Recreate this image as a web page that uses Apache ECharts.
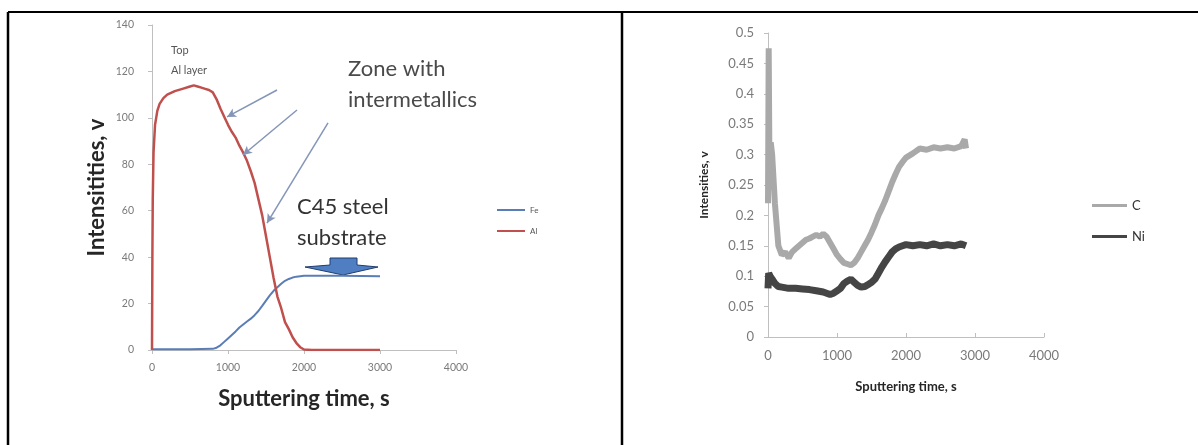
<!DOCTYPE html>
<html><head><meta charset="utf-8">
<script src="https://cdn.jsdelivr.net/npm/echarts@6/dist/echarts.min.js"></script>
<style>html,body{margin:0;padding:0;background:#fff}#c{width:1198px;height:445px}</style>
</head><body><div id="c"></div>
<script>
// ---- Left chart data: sputtering time (s), intensity (v)
const feData = [[0,0.3],[500,0.3],[800,0.5],[850,1],[900,2],[950,3.5],[1000,5],[1050,6.5],[1100,8],[1150,9.7],[1200,11],[1250,12.3],[1300,13.5],[1350,15],[1400,16.8],[1450,19],[1500,21.3],[1550,23.5],[1600,25.5],[1650,27],[1700,28.5],[1750,29.8],[1800,30.6],[1850,31.2],[1900,31.6],[2000,32],[2500,32],[3000,31.8]];
const alData = [[0,0],[5,40],[10,65],[20,85],[40,97],[70,103],[100,106],[150,108.5],[200,110],[300,111.5],[400,112.5],[500,113.5],[550,114],[600,113.5],[650,113],[700,112.5],[750,112],[800,111],[850,108],[900,104],[950,100.5],[1000,97],[1050,94],[1100,91.5],[1150,88],[1200,85],[1250,81.5],[1300,77],[1350,72],[1400,65],[1450,58],[1500,49],[1550,40],[1600,31],[1650,23],[1700,18],[1750,12],[1800,9],[1850,5.5],[1900,3],[1950,1.2],[2000,0.2],[2100,0],[3000,0]];
// annotation arrows (data coords): [fromT, fromV, toT, toV]
const arrowCoords = [[1645,112,987,100.4],[1908,103.4,1197,84],[2316,97.8,1513,54.7]];
const leftXTicks = {min:0,max:4000,interval:1000};
const leftYTicks = {min:0,max:140,interval:20};

// ---- Right chart data
const cData = [[0,0.22],[10,0.475],[20,0.3],[40,0.32],[60,0.3],[100,0.22],[150,0.15],[200,0.135],[250,0.14],[300,0.13],[350,0.14],[400,0.145],[450,0.15],[500,0.155],[550,0.16],[600,0.162],[650,0.165],[700,0.168],[750,0.165],[800,0.17],[850,0.165],[900,0.155],[950,0.145],[1000,0.135],[1050,0.128],[1100,0.122],[1150,0.12],[1200,0.118],[1250,0.122],[1300,0.13],[1350,0.14],[1400,0.15],[1450,0.16],[1500,0.172],[1550,0.185],[1600,0.2],[1650,0.212],[1700,0.225],[1750,0.24],[1800,0.255],[1850,0.268],[1900,0.28],[1950,0.288],[2000,0.295],[2100,0.302],[2200,0.31],[2300,0.308],[2400,0.312],[2500,0.31],[2600,0.312],[2700,0.31],[2800,0.314],[2850,0.325],[2870,0.31]];
const niData = [[0,0.08],[10,0.105],[30,0.1],[60,0.095],[100,0.088],[150,0.083],[200,0.082],[300,0.08],[400,0.08],[500,0.079],[600,0.078],[700,0.076],[800,0.074],[900,0.07],[950,0.072],[1000,0.076],[1050,0.08],[1100,0.088],[1150,0.092],[1200,0.095],[1250,0.09],[1300,0.085],[1350,0.082],[1400,0.083],[1450,0.086],[1500,0.09],[1550,0.095],[1600,0.105],[1650,0.115],[1700,0.124],[1750,0.132],[1800,0.14],[1850,0.145],[1900,0.148],[1950,0.15],[2000,0.152],[2100,0.15],[2200,0.152],[2300,0.15],[2400,0.153],[2500,0.15],[2600,0.152],[2700,0.15],[2800,0.153],[2870,0.15]];
const rightXTicks = {min:0,max:4000,interval:1000};
const rightYTicks = {min:0,max:0.5,interval:0.05};

const FONT = 'Lato, "Open Sans", sans-serif';
const axisGray = '#bfbfbf';

const chart = echarts.init(document.getElementById('c'));
function xAx(idx, t, labelSize, name, nameSize, gap, inside){
  return {gridIndex:idx, type:'value', min:t.min, max:t.max, interval:t.interval,
    splitLine:{show:false},
    axisLine:{lineStyle:{color:axisGray,width:1}},
    axisTick:{show:true,inside:inside,length:4,lineStyle:{color:axisGray}},
    axisLabel:{color:'#7a7a7a',fontSize:labelSize,fontFamily:FONT,margin:12,formatter:v=>String(v)},
    name:name,nameLocation:'middle',nameGap:gap,
    nameTextStyle:{fontFamily:FONT,fontWeight:'bold',fontSize:nameSize,color:'#262626'}};
}
function yAx(idx, t, labelSize, name, nameSize, gap, margin){
  return {gridIndex:idx, type:'value', min:t.min, max:t.max, interval:t.interval,
    splitLine:{show:false},
    axisLine:{show:true,lineStyle:{color:axisGray,width:1}},
    axisTick:{show:true,length:4,lineStyle:{color:axisGray}},
    axisLabel:{color:'#7a7a7a',fontSize:labelSize,fontFamily:FONT,margin:margin},
    name:name,nameLocation:'middle',nameGap:gap,nameRotate:90,
    nameTextStyle:{fontFamily:FONT,fontWeight:'bold',fontSize:nameSize,color:'#262626'}};
}

const option = {
  backgroundColor:'#fff',
  animation:false,
  grid:[
    {left:152, top:25, width:304, height:325},
    {left:768, top:33, width:276, height:304}
  ],
  xAxis:[
    xAx(0,leftXTicks,10.5,'Sputtering time, s',22,38,false),
    xAx(1,rightXTicks,13,'Sputtering time, s',13,43,true)
  ],
  yAxis:[
    yAx(0,leftYTicks,10.5,'Intensitities, v',22,44,18),
    yAx(1,rightYTicks,13,'Intensities, v',12,58,14)
  ],
  legend:[
    {data:['Fe','Al'],orient:'vertical',left:492,top:201,itemWidth:28,itemHeight:14,itemGap:13,
     textStyle:{fontSize:8,color:'#555',fontFamily:FONT},icon:'path://M0,6 L28,6 L28,8 L0,8 Z'},
    {data:['C','Ni'],orient:'vertical',left:1087,top:194,itemWidth:35,itemHeight:14,itemGap:18,
     textStyle:{fontSize:13,color:'#333',fontFamily:FONT},icon:'path://M0,5.5 L35,5.5 L35,8.5 L0,8.5 Z'}
  ],
  series:[
    {name:'Fe',type:'line',xAxisIndex:0,yAxisIndex:0,data:feData,showSymbol:false,symbol:'none',
     lineStyle:{color:'#5b7db6',width:2},itemStyle:{color:'#5b7db6'}},
    {name:'Al',type:'line',xAxisIndex:0,yAxisIndex:0,data:alData,showSymbol:false,symbol:'none',
     lineStyle:{color:'#c0504d',width:2.5},itemStyle:{color:'#c0504d'},
     markLine:{silent:true,symbol:['none','arrow'],symbolSize:[7,9],animation:false,
       lineStyle:{color:'#8495b8',width:1.5,type:'solid'},label:{show:false},
       data:arrowCoords.map(a=>[{coord:[a[0],a[1]]},{coord:[a[2],a[3]]}])}},
    {name:'C',type:'line',xAxisIndex:1,yAxisIndex:1,data:cData,showSymbol:false,symbol:'none',
     lineStyle:{color:'#a9a9a9',width:6},itemStyle:{color:'#a9a9a9'}},
    {name:'Ni',type:'line',xAxisIndex:1,yAxisIndex:1,data:niData,showSymbol:false,symbol:'none',
     lineStyle:{color:'#454545',width:7},itemStyle:{color:'#454545'}}
  ],
  graphic:[
    // panel borders
    {type:'line',shape:{x1:8,y1:12,x2:1198,y2:12},style:{stroke:'#000',lineWidth:2}},
    {type:'line',shape:{x1:8,y1:12,x2:8,y2:445},style:{stroke:'#000',lineWidth:2.5}},
    {type:'line',shape:{x1:622,y1:12,x2:622,y2:445},style:{stroke:'#000',lineWidth:2.5}},
    // annotations
    {type:'text',left:171,top:45,style:{text:'Top',fontSize:11,fill:'#555',fontFamily:FONT}},
    {type:'text',left:171,top:65,style:{text:'Al layer',fontSize:11,fill:'#555',fontFamily:FONT}},
    {type:'text',left:348,top:58,style:{text:'Zone with',fontSize:22,fill:'#4a4a4a',fontFamily:FONT}},
    {type:'text',left:348,top:89,style:{text:'intermetallics',fontSize:22,fill:'#4a4a4a',fontFamily:FONT}},
    {type:'text',left:297,top:196,style:{text:'C45 steel',fontSize:22,fill:'#333',fontFamily:FONT}},
    {type:'text',left:297,top:227,style:{text:'substrate',fontSize:22,fill:'#333',fontFamily:FONT}},
    {type:'polygon',shape:{points:[[330,258],[357,258],[357,265],[378,267],[343,275],[305,267],[330,265]]},
     style:{fill:'#4f7fc2',stroke:'#1f3d6e',lineWidth:1}}
  ]
};
chart.setOption(option);
</script></body></html>
